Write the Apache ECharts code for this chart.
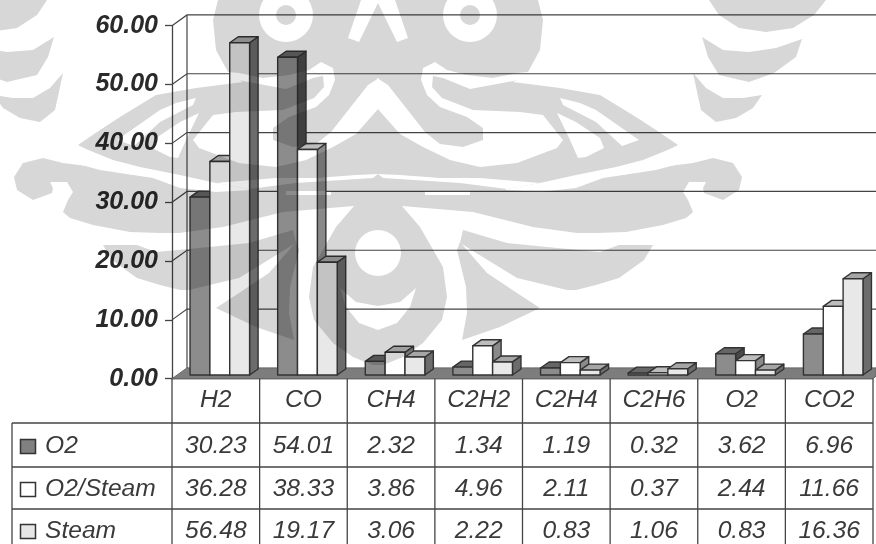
<!DOCTYPE html>
<html>
<head>
<meta charset="utf-8">
<style>html,body{margin:0;padding:0;background:#fff}#chart{width:876px;height:544px}</style>
<script src="https://cdn.jsdelivr.net/npm/echarts@6/dist/echarts.min.js"></script>
</head>
<body>
<div id="chart"></div>
<script>
// Product gas composition by gasifying agent
const categories = ['H2', 'CO', 'CH4', 'C2H2', 'C2H4', 'C2H6', 'O2', 'CO2'];
const seriesNames = ['O2', 'O2/Steam', 'Steam'];
const o2Values = [30.23, 54.01, 2.32, 1.34, 1.19, 0.32, 3.62, 6.96];
const o2SteamValues = [36.28, 38.33, 3.86, 4.96, 2.11, 0.37, 2.44, 11.66];
const steamValues = [56.48, 19.17, 3.06, 2.22, 0.83, 1.06, 0.83, 16.36];
const yTicks = [0, 10, 20, 30, 40, 50, 60];

const seriesValues = [o2Values, o2SteamValues, steamValues];
const faceColors = [
  { front: '#8c8c8c', top: '#666666', side: '#4a4a4a' },
  { front: '#ffffff', top: '#bdbdbd', side: '#8a8a8a' },
  { front: '#e8e8e8', top: '#a6a6a6', side: '#6c6c6c' }
];
const swatchFills = ['#808080', '#ffffff', '#e6e6e6'];

const FONT = '"Liberation Sans", Arial, sans-serif';
const INK = '#3a3a3a';
const LINE = '#444444';

// Plot frame and oblique depth of the wall and floor
const plotLeft = 172, plotRight = 873, plotTop = 25.7, plotBottom = 378.7;
const wallDx = 15, wallDy = 10.8;
const barDx = 8.5, barDy = 6, barLift = 3.7, barShift = 4;

// Data table under the plot
const tableLeft = 12, tableRows = [423, 467, 509, 551];
const bandWidth = (plotRight - plotLeft) / categories.length;

// University crest printed over the page: the right half is listed, the left half mirrors it
const crestAxis = 378;
const crestGray = [
  [[378,0],[538,0],[543,20],[540,50],[528,72],[513,82],[560,88],[600,95],[636,117],[659,132],[678,145],[643,163],[623,175],[653,168],[693,163],[713,158],[733,163],[742,177],[739,190],[723,200],[704,193],[703,188],[706,182],[689,182],[683,192],[688,200],[693,212],[686,218],[663,225],[626,232],[596,233],[577,233],[533,227],[473,212],[402,206],[420,227],[443,267],[447,297],[442,320],[423,343],[403,357],[383,365],[378,365]],
  [[463,230],[507,243],[557,248],[600,252],[619,245],[653,245],[644,260],[619,278],[596,285],[576,290],[567,290],[517,278],[460,243]],
  [[460,242],[487,273],[517,293],[540,308],[500,327],[462,340],[467,313],[466,287],[457,250]],
  [[709,0],[826,0],[814,15],[793,28],[766,32],[739,28],[719,15]],
  [[702,37],[723,50],[749,52],[776,48],[802,39],[796,57],[774,73],[749,82],[719,75],[708,57]],
  [[693,73],[706,88],[723,98],[743,98],[762,95],[753,108],[736,118],[716,122],[701,110]]
];
const crestWhite = [
  [[378,0],[395,0],[408,38],[397,42],[378,3]],
  [[377,78],[388,85],[425,132],[440,144],[463,147],[483,140],[483,128],[467,117],[440,107],[427,95],[421,80],[423,68],[435,62],[447,70],[433,76],[432,87],[442,98],[473,110],[520,112],[543,115],[563,140],[557,148],[517,163],[480,167],[450,160],[423,147],[400,134],[377,108]],
  [[447,70],[467,75],[493,78],[517,73],[528,72],[535,74],[513,81],[470,89],[443,78],[433,76]],
  [[560,98],[580,103],[596,110],[639,140],[622,146],[596,122],[563,105]],
  [[557,113],[576,122],[600,138],[604,148],[586,157],[578,158],[570,140]],
  [[680,145],[643,160],[616,167],[576,175],[540,183],[507,189],[505,190],[540,192],[576,188],[603,178],[656,170],[693,160]],
  [[378,174],[383,178],[460,183],[507,189],[540,183],[480,178],[440,178],[400,175]],
  [[425,191],[470,191],[470,195],[425,195]],
  [[378,306],[400,302],[416,288],[410,307],[397,323],[378,330]]
];
const crestRings = [{ cx: 470, cy: 15, outer: 27, inner: 10 }];
const crestHole = { cx: 378, cy: 253, r: 23 };

// Paints the crest in order on its own sheet, so white cut-outs stay clear when it is multiplied over the chart
function paintCrest() {
  const sheet = document.createElement('canvas');
  sheet.width = 876;
  sheet.height = 544;
  const ctx = sheet.getContext('2d');
  const gray = '#d7d7d7';
  const fillPoly = function (poly, fill, flip) {
    ctx.fillStyle = fill;
    ctx.beginPath();
    poly.forEach(function (p, i) {
      const x = flip ? 2 * crestAxis - p[0] : p[0];
      if (i) { ctx.lineTo(x, p[1]); } else { ctx.moveTo(x, p[1]); }
    });
    ctx.closePath();
    ctx.fill();
  };
  const fillDisc = function (cx, cy, r, fill) {
    ctx.fillStyle = fill;
    ctx.beginPath();
    ctx.arc(cx, cy, r, 0, Math.PI * 2);
    ctx.fill();
  };
  ctx.fillStyle = '#ffffff';
  ctx.fillRect(0, 0, 876, 544);
  [false, true].forEach(function (flip) {
    crestGray.forEach(function (p) { fillPoly(p, gray, flip); });
  });
  [false, true].forEach(function (flip) {
    crestWhite.forEach(function (p) { fillPoly(p, '#ffffff', flip); });
  });
  crestRings.forEach(function (r) {
    [r.cx, 2 * crestAxis - r.cx].forEach(function (cx) {
      fillDisc(cx, r.cy, r.outer, '#ffffff');
      fillDisc(cx, r.cy, r.inner, gray);
    });
  });
  fillDisc(crestHole.cx, crestHole.cy, crestHole.r, '#ffffff');
  return sheet;
}

function tableLine(x1, y1, x2, y2) {
  return { type: 'line', z: 20, silent: true, shape: { x1: x1, y1: y1, x2: x2, y2: y2 },
    style: { stroke: LINE, lineWidth: 1.3 } };
}
function tableText(text, x, y, align) {
  return { type: 'text', z: 21, silent: true,
    style: { text: text, x: x, y: y, align: align, verticalAlign: 'middle',
      font: 'italic 24.6px ' + FONT, fill: INK } };
}
function tableElements() {
  const out = [];
  tableRows.forEach(function (y) { out.push(tableLine(tableLeft, y, plotRight, y)); });
  out.push(tableLine(tableLeft, tableRows[0], tableLeft, 544));
  for (let i = 0; i <= categories.length; i++) {
    const x = plotLeft + i * bandWidth;
    out.push(tableLine(x, plotBottom, x, 544));
  }
  seriesNames.forEach(function (name, r) {
    const cy = (tableRows[r] + tableRows[r + 1]) / 2 + 1;
    out.push({ type: 'rect', z: 21, silent: true, shape: { x: 20.5, y: cy - 6.5, width: 15, height: 14 },
      style: { fill: swatchFills[r], stroke: '#333333', lineWidth: 1.5 } });
    out.push(tableText(name, 45, cy, 'left'));
    seriesValues[r].forEach(function (v, c) {
      out.push(tableText(v.toFixed(2), plotLeft + (c + 0.5) * bandWidth, cy, 'center'));
    });
  });
  return out;
}

// Back wall, side wall and floor, one group per axis tick
function renderWall(params, api) {
  const value = api.value(0);
  const box = params.coordSys;
  const y = api.coord([0, value])[1];
  const left = box.x, backLeft = left + wallDx, backY = y - wallDy, right = 876;
  const stroke = { stroke: LINE, lineWidth: 1.2, fill: 'none' };
  const children = [];
  if (value === 0) {
    children.push({
      type: 'polygon',
      shape: { points: [[left, y], [backLeft, backY], [right, backY], [right, y - 2.5], [plotRight, y]] },
      style: { fill: '#7d7d7d', stroke: '#666666', lineWidth: 1 }
    });
    children.push({
      type: 'line',
      shape: { x1: backLeft, y1: backY, x2: backLeft, y2: api.coord([0, yTicks[yTicks.length - 1]])[1] - wallDy },
      style: stroke
    });
  } else {
    children.push({
      type: 'polyline',
      shape: { points: [[left, y], [backLeft, backY], [right, backY]] },
      style: stroke
    });
  }
  return { type: 'group', children: children };
}

// Oblique three-face column drawn back to front
function renderColumn(seriesIndex) {
  return function (params, api) {
    const cat = api.value(0);
    const base = api.coord([cat, 0]);
    const top = api.coord([cat, api.value(1)]);
    const width = api.size([1, 0])[0] * 0.2265;
    const x0 = base[0] + barShift + (seriesIndex - 1.5) * width;
    const x1 = x0 + width;
    const yb = base[1] - barLift;
    const yt = top[1] - barLift;
    const c = faceColors[seriesIndex];
    const edge = { stroke: '#333333', lineWidth: 1.4, lineJoin: 'round' };
    const face = function (points, fill) {
      return { type: 'polygon', shape: { points: points }, style: Object.assign({ fill: fill }, edge) };
    };
    return {
      type: 'group',
      children: [
        face([[x1, yt], [x1 + barDx, yt - barDy], [x1 + barDx, yb - barDy], [x1, yb]], c.side),
        face([[x0, yt], [x0 + barDx, yt - barDy], [x1 + barDx, yt - barDy], [x1, yt]], c.top),
        face([[x0, yt], [x1, yt], [x1, yb], [x0, yb]], c.front)
      ]
    };
  };
}

const columnSeries = seriesNames.map(function (name, s) {
  return {
    type: 'custom',
    name: name,
    z: 5 + s,
    clip: false,
    silent: true,
    renderItem: renderColumn(s),
    encode: { x: 0, y: 1 },
    data: seriesValues[s].map(function (v, i) { return [i, v]; })
  };
});

const crestLayer = {
  type: 'image',
  name: 'crest',
  z: 15,
  silent: true,
  style: { image: paintCrest(), x: 0, y: 0, width: 876, height: 544 }
};

const chart = echarts.init(document.getElementById('chart'), null, { renderer: 'canvas' });
chart.setOption({
  animation: false,
  backgroundColor: '#ffffff',
  grid: { left: plotLeft, top: plotTop, width: plotRight - plotLeft, height: plotBottom - plotTop, containLabel: false },
  xAxis: {
    type: 'category',
    data: categories,
    boundaryGap: true,
    axisLine: { show: true, lineStyle: { color: LINE, width: 1.3 } },
    axisTick: { show: false },
    splitLine: { show: false },
    axisLabel: { interval: 0, margin: 9, color: INK, fontFamily: FONT, fontStyle: 'italic', fontSize: 24.6 }
  },
  yAxis: {
    type: 'value',
    min: 0,
    max: 60,
    interval: 10,
    axisLine: { show: true, lineStyle: { color: LINE, width: 1.3 } },
    axisTick: { show: true, length: 7, lineStyle: { color: LINE, width: 1.3 } },
    splitLine: { show: false },
    axisLabel: {
      margin: 14,
      color: '#2a2a2a',
      fontFamily: FONT,
      fontStyle: 'italic',
      fontWeight: 'bold',
      fontSize: 25,
      formatter: function (v) { return v.toFixed(2); }
    }
  },
  graphic: { elements: [crestLayer].concat(tableElements()) },
  series: [{
    type: 'custom',
    name: 'walls',
    z: 1,
    clip: false,
    silent: true,
    renderItem: renderWall,
    encode: { y: 0 },
    data: yTicks.map(function (v) { return [v]; })
  }].concat(columnSeries)
});

// Multiply the crest sheet over everything beneath it
const zr = chart.getZr();
zr.storage.getDisplayList(true).forEach(function (el) {
  if (el.name === 'crest') {
    el.style.blend = 'multiply';
    el.dirty();
  }
});
zr.refreshImmediately();
</script>
</body>
</html>
